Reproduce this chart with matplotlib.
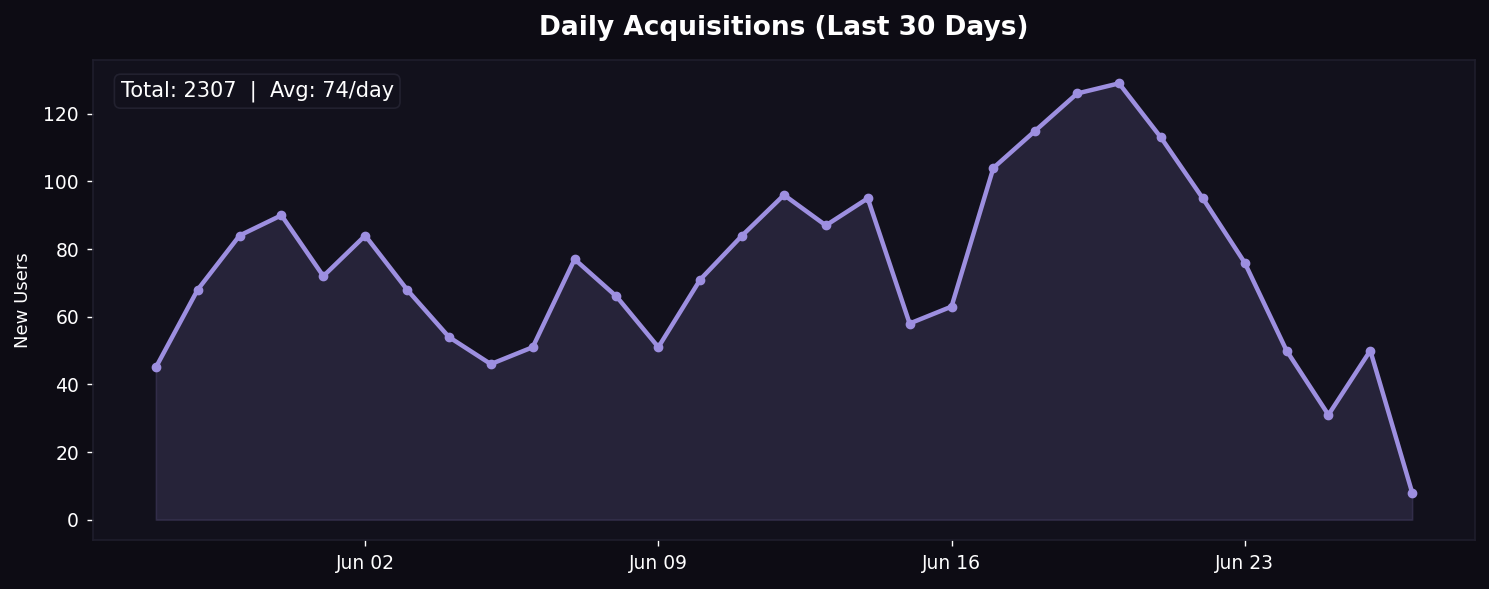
import numpy as np
import pandas as pd
import matplotlib
matplotlib.use("Agg")
import matplotlib.pyplot as plt
import matplotlib.dates as mdates

dates = pd.date_range("2024-05-28", "2024-06-27", freq="D")
new_users = [45, 68, 84, 90, 72, 84, 68, 54, 46, 51, 77, 66, 51, 71, 84, 96,
             87, 95, 58, 63, 104, 115, 126, 129, 113, 95, 76, 50, 31, 50, 8]

fig_bg = "#0d0c14"
ax_bg = "#12111c"
line_color = "#9d8fe0"
fill_color = "#9d8fe0"


def main():
    fig = plt.figure(figsize=(14.89, 5.89), dpi=100, facecolor=fig_bg)
    ax = fig.add_axes([93 / 1489, 49 / 589, 1382 / 1489, 480 / 589])
    ax.set_facecolor(ax_bg)

    ax.fill_between(dates, new_users, 0, facecolor=fill_color, alpha=0.15,
                    edgecolor=line_color, linewidth=1.2)
    ax.plot(dates, new_users, color=line_color, linewidth=3.2,
            marker="o", markersize=6, zorder=3)

    ax.set_ylim(-6.0, 135.9)
    ax.set_xlim(dates[0] - pd.Timedelta(days=1.5), dates[-1] + pd.Timedelta(days=1.5))
    ax.set_yticks(np.arange(0, 121, 20))

    ax.xaxis.set_major_locator(mdates.WeekdayLocator(byweekday=mdates.SU))
    ax.xaxis.set_major_formatter(mdates.DateFormatter("%b %d"))

    for s in ax.spines.values():
        s.set_color("#1f1e2c")
        s.set_linewidth(1.2)
    ax.tick_params(colors="white", labelsize=13.5, length=4, width=1, pad=6)

    ax.set_ylabel("New Users", color="white", fontsize=13, labelpad=8)
    ax.set_title("Daily Acquisitions (Last 30 Days)", color="white",
                 fontsize=19, fontweight="bold", pad=18)

    total = sum(new_users)
    avg = total / len(new_users)
    ax.text(0.02, 0.935, f"Total: {total}  |  Avg: {avg:.0f}/day",
            transform=ax.transAxes, color="white", fontsize=15, va="center",
            bbox=dict(boxstyle="round,pad=0.3", facecolor=ax_bg,
                      edgecolor="#22212f", linewidth=1.2))

    fig.savefig("out.png", dpi=100, facecolor=fig_bg)


if __name__ == "__main__":
    main()
